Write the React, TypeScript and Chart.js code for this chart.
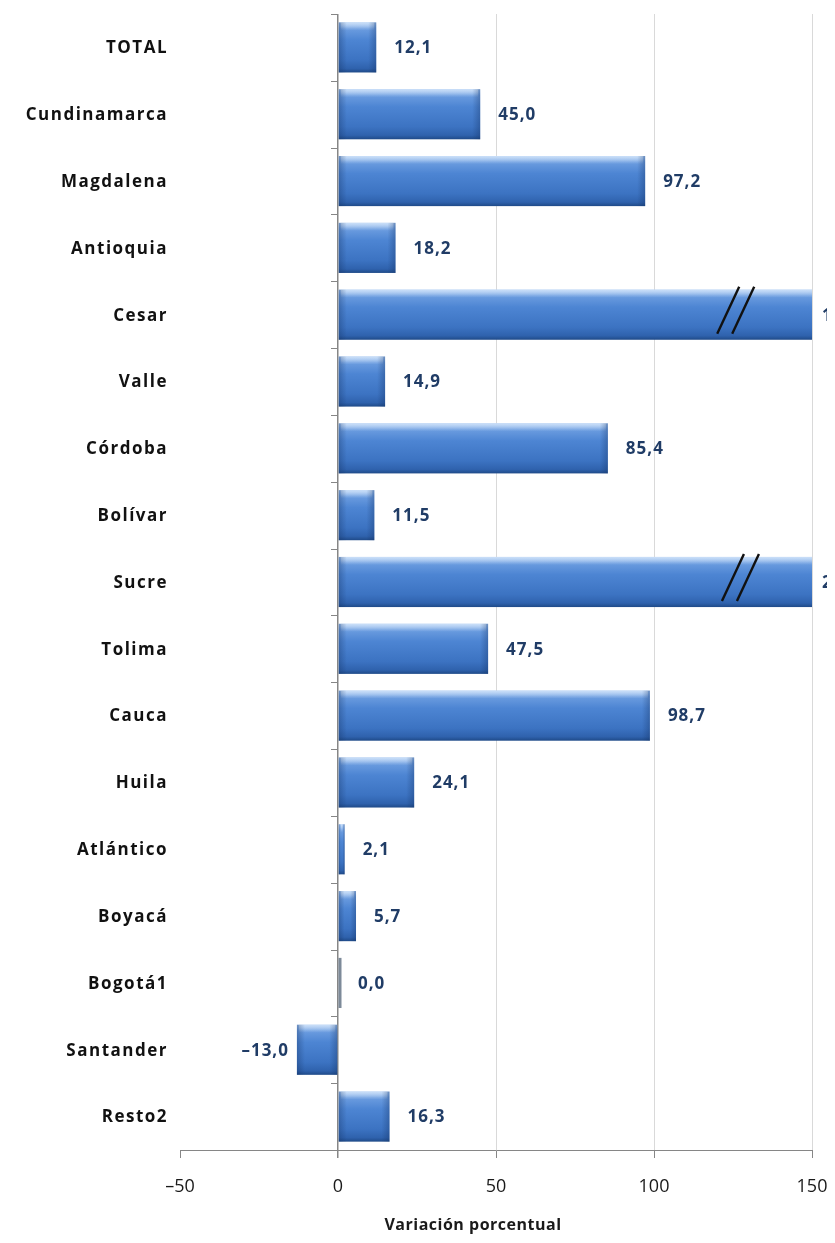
import React, { useEffect, useRef } from "react";
import { Chart, registerables } from "chart.js";

Chart.register(...registerables);

const categories = [
  "TOTAL", "Cundinamarca", "Magdalena", "Antioquia", "Cesar", "Valle", "Córdoba", "Bolívar",
  "Sucre", "Tolima", "Cauca", "Huila", "Atlántico", "Boyacá", "Bogotá1", "Santander", "Resto2",
];
const values = [12.1, 45.0, 97.2, 18.2, 176.5, 14.9, 85.4, 11.5, 284.6, 47.5, 98.7, 24.1, 2.1, 5.7, 0.0, -13.0, 16.3];
const xTicks = [-50, 0, 50, 100, 150];
const axisTitle = "Variación porcentual";

const fmt = (v: number) => v.toFixed(1).replace(".", ",").replace("-", "–");

const barPlugin = {
  id: "bars3d",
  afterDatasetsDraw(chart: any) {
    const { ctx, chartArea, scales } = chart;
    const xs = scales.x;
    const ys = scales.y;
    const meta = chart.getDatasetMeta(0);
    const x0 = xs.getPixelForValue(0);
    const xmax = xs.getPixelForValue(xTicks[xTicks.length - 1]);

    ctx.save();
    ctx.beginPath();
    ctx.rect(chartArea.left, chartArea.top, chartArea.right - chartArea.left, chartArea.bottom - chartArea.top);
    ctx.clip();
    meta.data.forEach((el: any, i: number) => {
      const p = el.getProps(["x", "y", "base", "height"], true);
      const l = Math.min(p.x, p.base);
      const r = Math.max(p.x, p.base);
      const t = p.y - p.height / 2;
      const b = p.y + p.height / 2;
      if (values[i] === 0) {
        ctx.fillStyle = "#7d8a99";
        ctx.fillRect(l + 0.5, t, 3, b - t);
        return;
      }
      const g = ctx.createLinearGradient(0, t, 0, b);
      g.addColorStop(0, "#9fc2ef");
      g.addColorStop(0.12, "#6c9de0");
      g.addColorStop(0.35, "#4d85d3");
      g.addColorStop(0.75, "#3c73c2");
      g.addColorStop(0.92, "#2f62ad");
      g.addColorStop(1, "#1f4a88");
      ctx.fillStyle = g;
      ctx.fillRect(l, t, r - l, b - t);
      const hl = ctx.createLinearGradient(0, t, 0, t + 8);
      hl.addColorStop(0, "rgba(210,228,250,0.85)");
      hl.addColorStop(1, "rgba(210,228,250,0)");
      ctx.fillStyle = hl;
      ctx.fillRect(l + 2, t, Math.max(0, r - l - 4), 8);
      const w = Math.min(8, (r - l) / 3);
      const sl = ctx.createLinearGradient(l, 0, l + w, 0);
      sl.addColorStop(0, "rgba(20,50,100,0.35)");
      sl.addColorStop(1, "rgba(20,50,100,0)");
      ctx.fillStyle = sl;
      ctx.fillRect(l, t, w, b - t);
      const sr = ctx.createLinearGradient(r, 0, r - w, 0);
      sr.addColorStop(0, "rgba(20,50,100,0.35)");
      sr.addColorStop(1, "rgba(20,50,100,0)");
      ctx.fillStyle = sr;
      ctx.fillRect(r - w, t, w, b - t);
    });
    ctx.restore();

    // category tick marks on the zero axis
    ctx.save();
    ctx.strokeStyle = "#868686";
    ctx.lineWidth = 1;
    const band = (ys.bottom - ys.top) / categories.length;
    for (let i = 0; i <= categories.length; i++) {
      const yy = Math.round(ys.top + i * band) + 0.5;
      ctx.beginPath();
      ctx.moveTo(x0 - 7, yy);
      ctx.lineTo(x0, yy);
      ctx.stroke();
    }
    ctx.restore();

    // category labels (letter-spaced)
    ctx.save();
    (ctx as any).letterSpacing = "1.5px";
    ctx.fillStyle = "#111";
    ctx.font = "bold 17px 'Open Sans', sans-serif";
    ctx.textAlign = "right";
    ctx.textBaseline = "middle";
    categories.forEach((c, i) => {
      ctx.fillText(c, ys.right - 12, ys.getPixelForTick(i) + 1);
    });
    ctx.restore();

    // break marks and value labels
    ctx.save();
    (ctx as any).letterSpacing = "1px";
    meta.data.forEach((el: any, i: number) => {
      const p = el.getProps(["x", "y", "base", "height"], true);
      const v = values[i];
      const clipped = v > xTicks[xTicks.length - 1];
      if (clipped) {
        ctx.strokeStyle = "#111";
        ctx.lineWidth = 2.4;
        const t = p.y - p.height / 2 - 3;
        const b = p.y + p.height / 2 - 6;
        const bx = xs.getPixelForValue(120 + (i === 8 ? 1.5 : 0));
        for (const off of [0, 15]) {
          ctx.beginPath();
          ctx.moveTo(bx + off, b);
          ctx.lineTo(bx + off + 22, t);
          ctx.stroke();
        }
      }
      ctx.fillStyle = "#203c66";
      ctx.font = "bold 17px 'Open Sans', sans-serif";
      ctx.textBaseline = "middle";
      const ty = p.y + 1;
      if (v < 0) {
        ctx.textAlign = "right";
        ctx.fillText(fmt(v), p.x - 8, ty);
      } else {
        ctx.textAlign = "left";
        const ex = clipped ? xmax + 10 : Math.max(p.x, x0 + 2) + 18;
        ctx.fillText(fmt(v), ex, ty);
      }
    });
    ctx.restore();

    // x axis title
    ctx.save();
    (ctx as any).letterSpacing = "0.5px";
    ctx.fillStyle = "#1a1a1a";
    ctx.font = "bold 16px 'Open Sans', sans-serif";
    ctx.textAlign = "center";
    ctx.textBaseline = "middle";
    ctx.fillText(axisTitle, (chartArea.left + chartArea.right) / 2 - 23, chart.height - 10);
    ctx.restore();
  },
};

export default function App() {
  const ref = useRef<HTMLCanvasElement | null>(null);
  useEffect(() => {
    if (!ref.current) return;
    const chart = new Chart(ref.current, {
      type: "bar",
      data: {
        labels: categories,
        datasets: [
          {
            data: values,
            backgroundColor: "rgba(0,0,0,0)",
            borderWidth: 0,
            categoryPercentage: 1,
            barPercentage: 0.75,
          },
        ],
      },
      options: {
        indexAxis: "y",
        animation: false,
        responsive: true,
        maintainAspectRatio: false,
        layout: { padding: { top: 6, right: 23, left: 0, bottom: 0 } },
        plugins: { legend: { display: false }, tooltip: { enabled: false } },
        scales: {
          x: {
            min: xTicks[0],
            max: xTicks[xTicks.length - 1],
            afterBuildTicks: (scale: any) => {
              scale.ticks = xTicks.map((v) => ({ value: v }));
            },
            afterFit: (scale: any) => {
              scale.height = 85;
              scale.paddingLeft = 0;
              scale.paddingRight = 0;
            },
            border: { display: true, color: "#868686", width: 1 },
            grid: {
              color: (c: any) =>
                c.tick && c.tick.value === 0 ? "#868686" : c.tick && c.tick.value === xTicks[0] ? "rgba(0,0,0,0)" : "#d9d9d9",
              tickColor: "#868686",
              tickLength: 8,
              lineWidth: (c: any) => (c.tick && c.tick.value === 0 ? 1.5 : 1),
            },
            ticks: {
              color: "#1a1a1a",
              font: { family: "'Open Sans', sans-serif", size: 18 },
              padding: 18,
              callback: (v: any) => String(v).replace("-", "–"),
            },
          },
          y: {
            afterFit: (scale: any) => {
              scale.width = 172;
              scale.paddingTop = 0;
              scale.paddingBottom = 0;
            },
            border: { display: false },
            grid: { display: false, drawTicks: false },
            ticks: { display: false },
          },
        },
      },
      plugins: [barPlugin],
    } as any);
    return () => chart.destroy();
  }, []);
  return (
    <div style={{ width: 827, height: 1227, position: "relative" }}>
      <canvas ref={ref} />
    </div>
  );
}
